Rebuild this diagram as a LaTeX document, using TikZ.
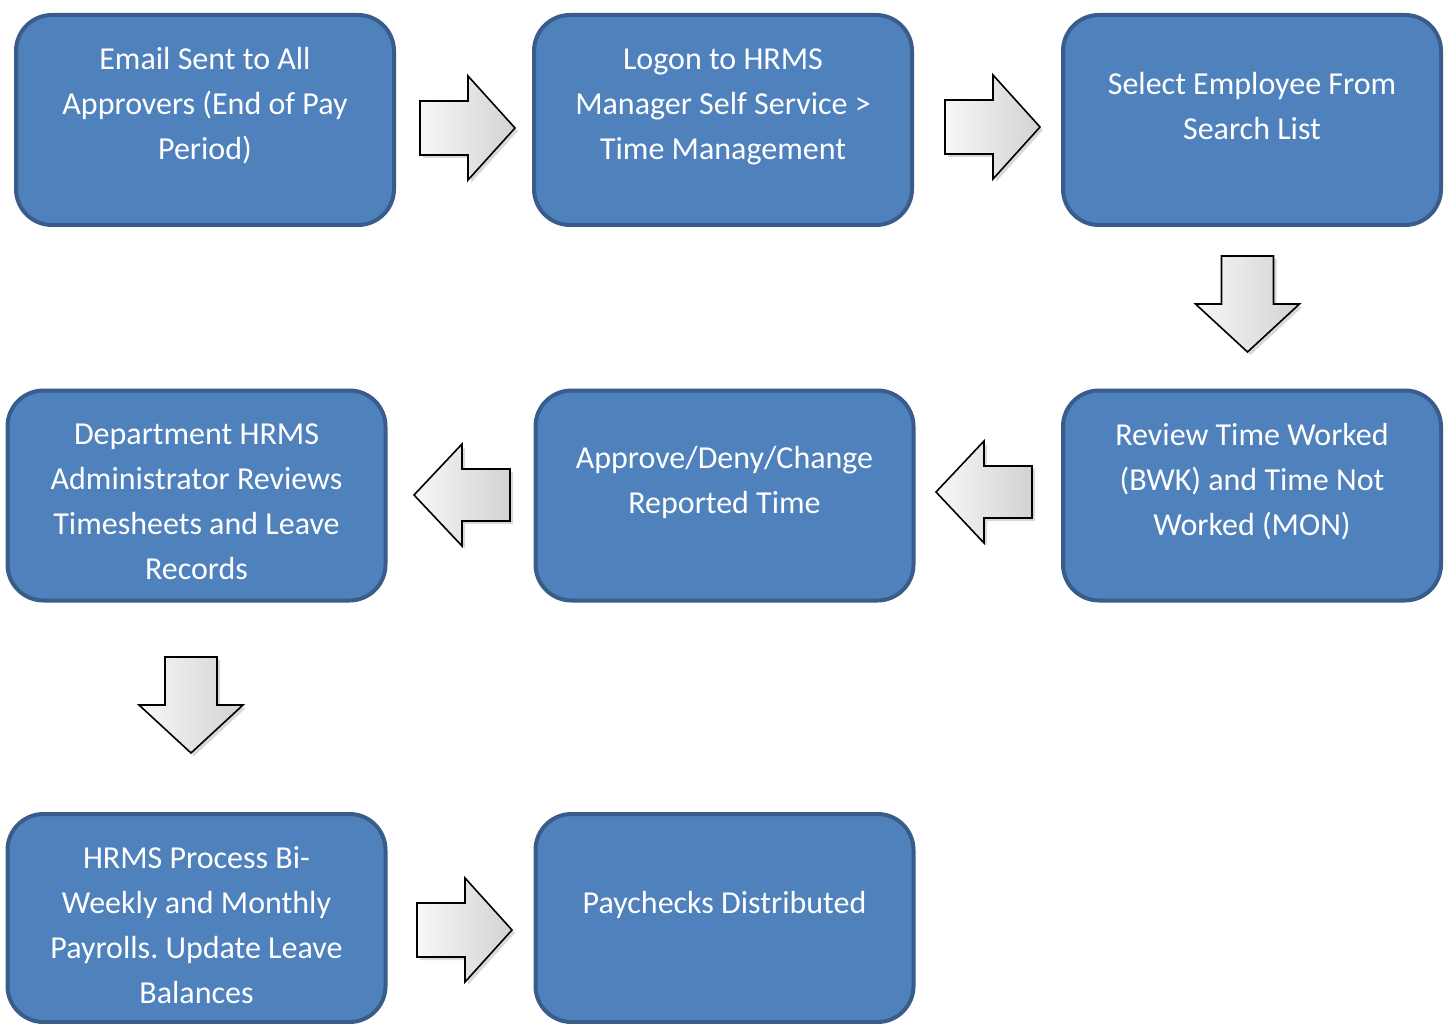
\documentclass[tikz,border=0pt]{standalone}
\usepackage{fontspec}
\setmainfont{Carlito}
\frenchspacing
\usetikzlibrary{shadows}
\definecolor{boxfill}{HTML}{4F81BD}
\definecolor{boxline}{HTML}{385D8A}
\begin{document}
\begin{tikzpicture}[x=1pt,y=-1pt,
  procbox/.style={draw=boxline, line width=4pt, fill=boxfill, rounded corners=36pt,
    minimum width=378pt, minimum height=210pt, inner sep=0pt},
  boxtext/.style={text=white, align=center, font=\fontsize{32}{45}\selectfont, inner sep=0pt},
  blockarrow/.style={draw=black, line width=1.6pt, line join=miter,
    left color=gray!6, right color=gray!35,
    drop shadow={opacity=0.3, shadow xshift=3pt, shadow yshift=-3pt}}]
\useasboundingbox (0,0) rectangle (1448,1024);

% boxes
\node[procbox] (b1) at (205,120) {};
\node[procbox] (b2) at (723,120) {};
\node[procbox] (b3) at (1252,120) {};
\node[procbox] (b4) at (1252,495.5) {};
\node[procbox] (b5) at (724.5,495.5) {};
\node[procbox] (b6) at (196.5,495.5) {};
\node[procbox, minimum height=208pt] (b7) at (196.5,918) {};
\node[procbox, minimum height=208pt] (b8) at (724.5,918) {};

% texts
\node[boxtext] (t1) at (205,106) {Email Sent to All\\Approvers (End of Pay\\Period)};
\node[boxtext] (t2) at (723,107) {Logon to HRMS\\Manager Self Service >\\Time Management};
\node[boxtext] (t3) at (1252,106) {Select Employee From\\Search List};
\node[boxtext] (t4) at (1252,482) {Review Time Worked\\(BWK) and Time Not\\Worked (MON)};
\node[boxtext] (t5) at (724.5,482) {Approve/Deny/Change\\Reported Time};
\node[boxtext] (t6) at (196.5,502) {Department HRMS\\Administrator Reviews\\Timesheets and Leave\\Records};
\node[boxtext] (t7) at (196.5,925.5) {HRMS Process Bi-\\Weekly and Monthly\\Payrolls. Update Leave\\Balances};
\node[boxtext] (t8) at (724.5,905) {Paychecks Distributed};

% right arrows
\draw[blockarrow, shift={(420,128)}] (0,-27) -- (48,-27) -- (48,-52) -- (95,0) -- (48,52) -- (48,27) -- (0,27) -- cycle;
\draw[blockarrow, shift={(945,127)}] (0,-27) -- (48,-27) -- (48,-52) -- (95,0) -- (48,52) -- (48,27) -- (0,27) -- cycle;
\draw[blockarrow, shift={(417,930)}] (0,-27) -- (48,-27) -- (48,-52) -- (95,0) -- (48,52) -- (48,27) -- (0,27) -- cycle;
% left arrows
\draw[blockarrow, shift={(510,495)}] (0,-26) -- (-48,-26) -- (-48,-51) -- (-96,0) -- (-48,51) -- (-48,26) -- (0,26) -- cycle;
\draw[blockarrow, shift={(1032,492)}] (0,-26) -- (-48,-26) -- (-48,-51) -- (-96,0) -- (-48,51) -- (-48,26) -- (0,26) -- cycle;
% down arrows
\draw[blockarrow, shift={(1247.5,256)}] (-26,0) -- (-26,48) -- (-52,48) -- (0,96) -- (52,48) -- (26,48) -- (26,0) -- cycle;
\draw[blockarrow, shift={(191,657)}] (-26,0) -- (-26,48) -- (-52,48) -- (0,96) -- (52,48) -- (26,48) -- (26,0) -- cycle;
\end{tikzpicture}
\end{document}
